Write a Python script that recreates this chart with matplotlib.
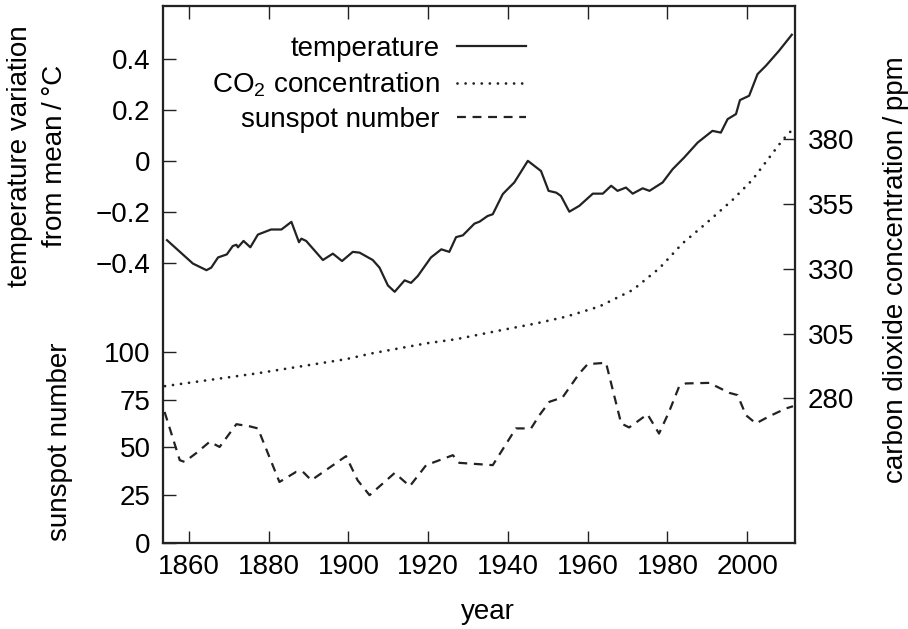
import numpy as np
import matplotlib
matplotlib.use("Agg")
import matplotlib.pyplot as plt

plt.rcParams['font.family'] = ['Liberation Sans', 'DejaVu Sans']
plt.rcParams['mathtext.fontset'] = 'custom'
plt.rcParams['mathtext.rm'] = 'Liberation Sans'
plt.rcParams['mathtext.it'] = 'Liberation Sans:italic'
plt.rcParams['mathtext.bf'] = 'Liberation Sans:bold'

# temperature variation from mean (deg C)
temp_year = [1854.5, 1861, 1864.4, 1865.6, 1867.3, 1869.5, 1871, 1871.9, 1872.3, 1873.7,
             1875.4, 1877.3, 1880.6, 1883.2, 1885.7, 1887.6, 1888.2, 1889.4, 1893.6, 1896.1,
             1898.4, 1901.1, 1902.8, 1906.1, 1907.8, 1909.9, 1911.6, 1914.1, 1915.7, 1917.4,
             1920.7, 1923.3, 1925.3, 1927, 1928.7, 1931.6, 1932.9, 1934.9, 1936.2, 1938.7,
             1939.5, 1941.6, 1945, 1948.3, 1950.2, 1952.1, 1953.3, 1955.4, 1957.9, 1961.3,
             1963.8, 1965.9, 1967.5, 1969.6, 1971.3, 1973.8, 1975.5, 1978.8, 1981.3, 1984.2,
             1987.6, 1991.3, 1993.4, 1995.1, 1997.2, 1998.2, 2000.5, 2002.6, 2004.7, 2008,
             2011.2]
temp_val = [-0.312, -0.404, -0.43, -0.42, -0.38, -0.368, -0.335, -0.33, -0.34, -0.315,
            -0.34, -0.29, -0.27, -0.27, -0.24, -0.32, -0.306, -0.315, -0.39, -0.365,
            -0.394, -0.358, -0.361, -0.39, -0.42, -0.49, -0.515, -0.47, -0.48, -0.453,
            -0.38, -0.348, -0.358, -0.30, -0.293, -0.247, -0.239, -0.217, -0.21, -0.131,
            -0.118, -0.085, 0.0, -0.04, -0.118, -0.125, -0.138, -0.2, -0.177, -0.129,
            -0.129, -0.098, -0.118, -0.105, -0.129, -0.108, -0.118, -0.085, -0.033, 0.013,
            0.072, 0.118, 0.111, 0.164, 0.184, 0.239, 0.256, 0.341, 0.374, 0.433,
            0.496]

# carbon dioxide concentration (ppm)
co2_year = [1854, 1877, 1899.4, 1906.1, 1919.5, 1927, 1938.7, 1947.1, 1954.6, 1962.9,
            1971.3, 1978, 1983.8, 1989.7, 1996.3, 2001.3, 2008.9, 2011.4]
co2_val = [284.7, 289.6, 295.1, 297.4, 301.2, 302.8, 306.4, 308.9, 311.5, 315.4,
           321.8, 330.2, 339.8, 347.5, 356.5, 364.3, 379.7, 383.8]

# sunspot number
sun_year = [1853.9, 1857.7, 1858.9, 1861.9, 1865.2, 1867.7, 1871.9, 1875.2, 1877.3, 1882.7,
            1886.9, 1888.6, 1890.7, 1899.4, 1902.3, 1905.3, 1911.6, 1915.4, 1919.5, 1926.2,
            1927.8, 1936.2, 1942, 1945.8, 1947.9, 1950.4, 1953.7, 1957.9, 1960, 1964.6,
            1968.4, 1970.4, 1975, 1977.9, 1980.4, 1982.9, 1984.6, 1990.5, 1995.5, 1997.6,
            1999.7, 2002.2, 2005.6, 2009.7, 2011.5]
sun_val = [68.5, 43.3, 42.4, 47.1, 52.9, 50.2, 62.1, 61, 59.9, 31.9,
           37.2, 37.2, 32.8, 45.4, 32.8, 25, 36.6, 29.7, 40.7, 45.9,
           41.9, 40.7, 59.9, 59.9, 66.8, 73.8, 76.1, 88.6, 93.5, 94.2,
           62.5, 60.4, 67.3, 57.2, 68.5, 81.6, 83.4, 83.7, 78.5, 77.3,
           66.8, 62.5, 66.3, 70.3, 71.5]

year_ticks = [1860, 1880, 1900, 1920, 1940, 1960, 1980, 2000]
temp_ticks = [-0.4, -0.2, 0, 0.2, 0.4]
temp_labels = ['\u22120.4', '\u22120.2', '0', '0.2', '0.4']
sun_ticks = [0, 25, 50, 75, 100]
co2_ticks = [280, 305, 330, 355, 380]

W, H = 908, 629
fig = plt.figure(figsize=(W / 100, H / 100), dpi=100)
L, R, T, B = 163, 795, 6, 543
rect = [L / W, 1 - B / H, (R - L) / W, (B - T) / H]

ink = '#222222'
fs = 20
lw = 1.6

ax = fig.add_axes(rect)
ax_sun = ax.twinx()
ax_co2 = ax.twinx()

l_temp, = ax.plot(temp_year, temp_val, color=ink, lw=lw, solid_joinstyle='round',
                  label='temperature')
l_co2, = ax_co2.plot(co2_year, co2_val, color=ink, lw=2.0, linestyle=(0, (0.01, 2.9)),
                     dash_capstyle='round', label='CO$_2$ concentration')
l_sun, = ax_sun.plot(sun_year, sun_val, color=ink, lw=lw, linestyle=(0, (4, 3)),
                     label='sunspot number')

ax.set_xlim(1853.5, 2012)
ax.set_ylim(-1.503, 0.609)
ax_sun.set_ylim(0, 280.7)
ax_co2.set_ylim(224.15, 431.4)

ax.set_xticks(year_ticks)
ax.set_yticks(temp_ticks)
ax.set_yticklabels(temp_labels)
ax.tick_params(axis='x', direction='in', length=9, width=1, top=True, labelsize=fs,
               pad=8, color=ink, labelcolor='black')
ax.tick_params(axis='y', direction='in', length=9, width=1, labelsize=fs, pad=9,
               color=ink, labelcolor='black', right=False)

ax_sun.yaxis.set_ticks_position('left')
ax_sun.yaxis.set_label_position('left')
ax_sun.set_yticks(sun_ticks)
ax_sun.tick_params(axis='y', direction='in', length=9, width=1, labelsize=fs, pad=9,
                   color=ink, labelcolor='black', left=True, right=False,
                   labelleft=True, labelright=False)

ax_co2.set_yticks(co2_ticks)
ax_co2.tick_params(axis='y', direction='in', length=9, width=1, labelsize=fs, pad=9,
                   color=ink, labelcolor='black')

for a in (ax, ax_sun, ax_co2):
    for s in a.spines.values():
        s.set_linewidth(1.5)
        s.set_color(ink)

# axis titles
fig.text(38 / W, 1 - 156 / H, 'temperature variation\nfrom mean\u2009/\u2009\u00b0C',
         rotation=90, ha='center', va='center', multialignment='center', fontsize=fs,
         linespacing=1.45)
fig.text(60 / W, 1 - 442 / H, 'sunspot number', rotation=90, ha='center', va='center',
         fontsize=fs)
fig.text(896 / W, 1 - 270 / H, 'carbon dioxide concentration\u2009/\u2009ppm', rotation=90,
         ha='center', va='center', fontsize=fs)
fig.text(488 / W, 1 - 619 / H, 'year', ha='center', va='baseline', fontsize=fs)

ax.legend(handles=[l_temp, l_co2, l_sun], loc='upper right', frameon=False,
          markerfirst=False, fontsize=fs, handlelength=2.5, handletextpad=0.6,
          labelspacing=0.3, borderpad=0, borderaxespad=0,
          bbox_to_anchor=(526 / W, 1 - 36 / H), bbox_transform=fig.transFigure)

fig.savefig('out.png', dpi=100)
